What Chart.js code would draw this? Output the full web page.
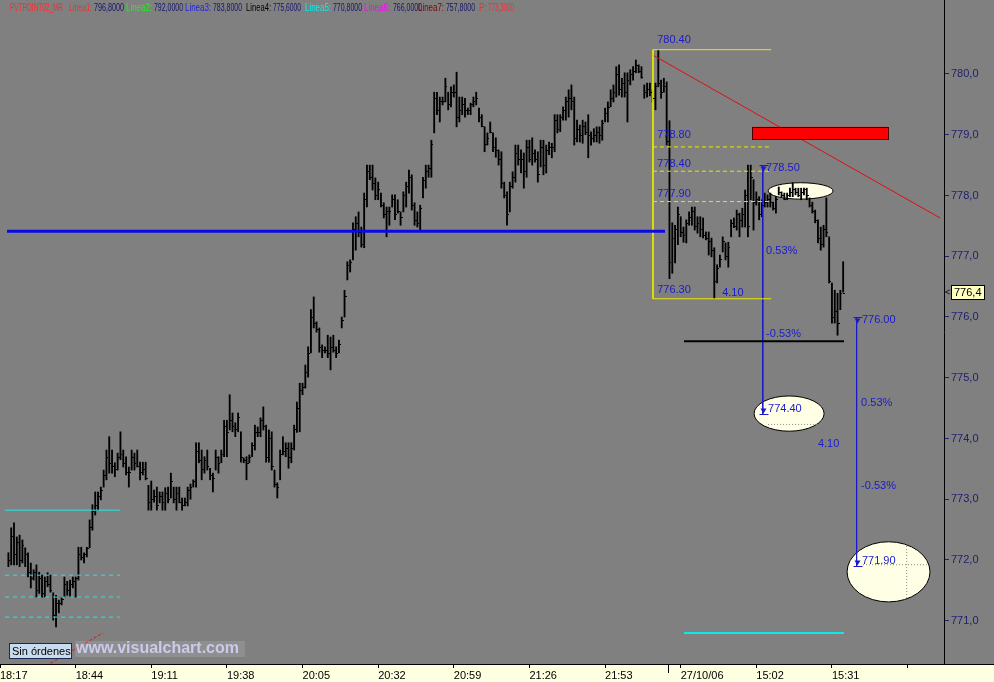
<!DOCTYPE html>
<html><head><meta charset="utf-8">
<script src="https://cdn.jsdelivr.net/npm/chart.js@4"></script>
<style>html,body{margin:0;padding:0;background:#808080;overflow:hidden}#wrap{position:relative;width:994px;height:682px}</style>
</head><body><div id="wrap"><canvas id="c" width="994" height="682"></canvas></div>
<script>
// ---------- time axis ----------
const tickLabels = ['18:17','18:44','19:11','19:38','20:05','20:32','20:59','21:26','21:53','27/10/06','15:02','15:31',''];
const day1Start = 3, day2Start = 239;

// ---------- session 1 (26/10) bars ----------
const d1Hi = [
772.12,772.53,772.61,772.38,772.41,772.33,772.20,772.12,771.95,771.84,
771.92,771.80,771.75,771.72,771.79,771.75,771.46,771.42,771.34,771.39,
771.72,771.65,771.67,771.72,771.72,772.21,772.21,772.12,772.21,772.66,
772.91,773.12,773.12,773.20,773.48,773.81,774.03,773.81,773.60,773.76,
774.11,773.81,773.70,773.53,773.81,773.76,773.81,773.61,773.61,773.61,
773.23,773.30,773.15,
773.20,773.12,773.12,773.19,773.20,773.43,773.20,773.20,773.20,773.02,
773.02,773.20,773.25,773.32,773.93,773.93,773.81,773.70,773.81,773.51,
773.43,773.81,773.70,773.81,774.30,774.30,774.72,774.42,774.26,774.42,
774.11,773.68,773.70,773.73,773.93,774.22,774.19,774.34,774.52,774.22,
774.14,774.11,773.48,773.27,773.81,774.03,773.93,773.93,773.93,774.22,
774.60,774.91,774.91,775.21,775.51,776.12,776.33,775.92,775.82,775.54,
775.51,775.70,
775.67,775.70,775.51,775.62,776.00,776.44,776.91,776.94,777.55,777.65,
777.73,777.48,778.04,778.50,778.50,778.50,778.29,778.22,778.04,777.88,
777.81,777.81,778.01,778.01,777.93,777.73,778.06,778.22,778.42,778.34,
777.88,777.73,777.84,778.30,778.50,778.50,778.91,779.70,779.70,779.62,
779.62,779.93,779.70,779.79,779.82,780.03,779.62,779.62,779.60,779.44,
779.52,779.62,779.70,779.44,779.33,779.13,779.03,779.21,779.03,778.95,
778.75,778.72,778.22,778.06,778.22,778.39,778.83,778.83,778.75,778.70,
778.91,778.91,778.95,778.75,778.72,778.91,778.91,778.83,778.88,778.86,
779.33,779.33,779.33,779.46,779.62,779.74,779.82,779.62,779.24,779.16,
779.24,779.21,779.33,779.05,779.10,779.13,
779.13,779.24,779.44,779.54,779.74,779.82,780.12,780.15,779.93,780.02,
780.02,780.07,780.12,780.23,780.15,780.12,779.82,779.85,779.85,779.74,
779.85,780.40,779.90,779.93,779.87];
const d1Lo = [
771.89,771.92,771.92,771.92,771.89,771.95,771.89,771.72,771.54,771.67,
771.39,771.45,771.39,771.39,771.56,771.47,771.01,770.90,771.13,771.26,
771.39,771.42,771.39,771.54,771.39,771.67,772.00,771.95,772.05,772.20,
772.49,772.74,772.82,772.99,773.20,773.32,773.43,773.43,773.37,773.48,
773.65,773.53,773.40,773.20,773.48,773.48,773.53,773.32,773.40,773.32,
772.82,772.82,772.95,
772.82,772.94,772.82,772.82,772.94,773.02,772.94,772.82,772.94,772.82,
772.89,772.89,773.00,773.20,773.20,773.60,773.32,773.43,773.48,773.32,
773.12,773.48,773.43,773.60,773.70,773.70,774.14,774.11,774.03,774.11,
773.61,773.60,773.32,773.60,773.70,773.81,774.03,774.03,774.14,773.61,
773.61,773.48,773.20,773.02,773.32,773.73,773.70,773.51,773.60,773.81,
774.10,774.11,774.72,774.83,775.01,775.41,775.82,775.75,775.42,775.33,
775.41,775.33,
775.13,775.42,775.33,775.41,775.82,776.00,776.61,776.74,776.94,777.10,
777.32,777.15,777.14,777.81,778.26,778.09,777.93,777.93,777.81,777.63,
777.32,777.51,777.81,777.60,777.71,777.51,777.73,777.81,778.04,777.76,
777.51,777.48,777.43,777.96,778.12,778.30,778.30,779.03,779.33,779.21,
779.49,779.54,779.41,779.46,779.62,779.13,779.21,779.33,779.29,779.33,
779.33,779.46,779.49,779.21,779.13,778.72,778.83,779.03,778.72,778.63,
778.50,778.12,777.96,777.51,777.73,778.12,778.22,778.50,778.37,778.12,
778.30,778.55,778.50,778.55,778.22,778.47,778.34,778.37,778.67,778.62,
778.72,779.03,779.05,779.24,779.24,779.29,779.41,778.83,778.88,778.88,
778.86,779.00,778.62,778.83,778.88,778.88,
778.86,778.91,779.21,779.21,779.46,779.54,779.62,779.65,779.62,779.62,
779.21,779.82,779.90,780.02,780.02,779.93,779.60,779.62,779.64,779.54,
779.41,779.79,779.60,779.70,778.83];
const d1Cl = [
772.00,772.40,772.10,772.30,772.00,772.25,772.10,771.80,771.70,771.80,
771.50,771.70,771.45,771.65,771.60,771.50,771.10,771.30,771.30,771.35,
771.60,771.50,771.60,771.65,771.70,772.10,772.05,772.10,772.20,772.55,
772.80,772.90,773.05,773.15,773.40,773.70,773.60,773.55,773.50,773.70,
773.75,773.60,773.45,773.45,773.70,773.60,773.55,773.45,773.50,773.35,
772.95,773.00,773.05,
772.90,773.05,772.95,773.10,773.00,773.30,773.00,773.10,772.95,772.90,
772.95,773.15,773.20,773.30,773.80,773.65,773.50,773.65,773.55,773.40,
773.35,773.70,773.60,773.75,774.20,774.10,774.30,774.20,774.15,774.35,
773.70,773.65,773.60,773.70,773.90,774.10,774.10,774.30,774.20,773.70,
774.00,773.55,773.25,773.20,773.75,773.80,773.85,773.70,773.85,774.15,
774.50,774.80,774.85,775.10,775.40,776.00,775.90,775.80,775.50,775.45,
775.45,775.40,
775.50,775.45,775.40,775.55,775.95,776.35,776.85,776.90,777.45,777.55,
777.40,777.20,777.95,778.40,778.30,778.20,778.00,778.10,777.85,777.70,
777.75,777.75,777.95,777.70,777.75,777.65,778.00,778.15,778.30,777.85,
777.60,777.55,777.80,778.25,778.40,778.45,778.85,779.60,779.40,779.55,
779.55,779.80,779.50,779.70,779.70,779.30,779.40,779.50,779.40,779.40,
779.50,779.55,779.60,779.30,779.15,778.85,778.95,779.05,778.80,778.75,
778.60,778.20,778.00,777.70,778.15,778.30,778.70,778.60,778.60,778.40,
778.80,778.60,778.70,778.60,778.35,778.80,778.50,778.75,778.80,778.80,
779.25,779.10,779.30,779.40,779.55,779.60,779.55,778.95,779.10,779.00,
779.15,779.05,779.00,778.95,779.00,779.05,
779.00,779.20,779.35,779.45,779.60,779.70,780.00,779.75,779.85,779.70,
779.90,780.00,780.05,780.15,780.05,779.95,779.70,779.75,779.70,779.60,
779.80,779.85,779.70,779.80,778.90];

// ---------- session 2 (27/10) bars ----------
const d2Hi = [
779.23,777.55,777.51,777.81,777.65,777.48,777.60,777.73,777.81,777.81,
777.65,777.65,777.63,777.40,777.40,777.30,777.14,776.86,777.02,777.32,
777.22,777.23,777.60,777.63,777.76,777.71,777.79,778.09,778.50,778.50,
778.26,778.06,777.98,777.93,778.04,778.01,778.04,777.89,777.98,778.14,
778.06,778.04,778.04,778.12,778.21,778.12,778.12,778.12,778.12,778.12,
777.96,777.89,777.76,777.60,777.48,777.51,777.96,777.32,776.56,776.44,
776.39,776.44,776.91];
const d2Lo = [
776.63,776.72,776.89,777.19,777.32,777.23,777.22,777.51,777.51,777.43,
777.38,777.32,777.30,777.27,777.02,776.99,776.30,776.56,776.82,777.07,
776.94,776.82,777.32,777.47,777.43,777.32,777.48,777.48,777.32,777.93,
777.43,777.84,777.60,777.65,777.81,777.81,777.81,777.76,777.71,778.01,
777.98,777.93,777.93,777.98,777.98,778.01,777.98,777.93,778.01,777.93,
777.81,777.71,777.55,777.22,777.10,777.15,777.32,776.56,775.90,775.90,
775.70,776.12,776.41];
const d2Cl = [
776.90,777.30,777.45,777.70,777.40,777.35,777.55,777.65,777.75,777.50,
777.55,777.45,777.35,777.30,777.25,777.10,776.60,776.80,776.95,777.25,
777.00,777.15,777.55,777.50,777.70,777.60,777.70,778.00,777.50,778.30,
777.90,777.95,777.70,777.85,777.90,777.95,777.90,777.80,777.95,778.05,
778.00,777.95,778.00,778.05,778.10,778.05,778.00,778.05,778.10,778.00,
777.85,777.75,777.60,777.30,777.20,777.45,777.40,776.60,776.00,776.10,
775.90,776.40,776.40];

// ---------- drawn studies (levels in price, positions in bar index) ----------
const blueLevel = 777.41, linea4 = 775.60, linea5 = 770.80;
const boxTop = 780.40, boxBottom = 776.30, boxFrom = 233.1, boxTo = 275.3;
const fibLevels = [778.80, 778.40, 777.90];
const leftCyanSolid = 772.82, leftCyanDashed = [771.75, 771.39, 771.06];
const trendA = [233.1, 780.31], trendB = [335.6, 777.63];
const redDashA = [16.5, 770.26], redDashB = [36.8, 770.80];
const measureA = {x: 272.3, top: 778.50, bottom: 774.40};
const measureB = {x: 305.8, top: 776.00, bottom: 771.90};
const lastPrice = 776.4;

const header = [
 ['PVTPOINT02_MR','#ff2a2a',10,53],['Linea1:','#ff2a2a',69,23],['796,8000','#14146e',94,30],
 ['Linea2:','#22ee22',126,26],['792,0000','#14146e',154,29],['Linea3:','#2222e6',185,26],
 ['783,8000','#14146e',213,29],['Linea4:','#000000',246,25],['775,6000','#14146e',273,28],
 ['Linea5:','#00f0f0',305,26],['770,8000','#14146e',333,29],['Linea6:','#ff00ff',364,26],
 ['766,0000','#14146e',393,29],['Linea7:','#800000',418,26],['757,8000','#14146e',446,29],
 ['P:','#ff2a2a',479,8],['773,3000','#ff2a2a',488,26]];

const annoLabels = [
 ['780.40',234.6,780.56],['778.80',234.6,779.00],['778.40',234.6,778.52],['777.90',234.6,778.03],
 ['776.30',234.6,776.44],['4.10',257.8,776.40],
 ['778.50',273.5,778.45],['0.53%',273.5,777.09],['-0.53%',273.5,775.72],['774.40',274.2,774.49],['4.10',292.0,773.91],
 ['776.00',307.7,775.95],['0.53%',307.4,774.58],['-0.53%',307.4,773.22],['771.90',307.7,771.98]];

// ---------- build datasets ----------
const bars = [];
d1Hi.forEach((h, k) => bars.push({x: day1Start + k, y: [d1Lo[k], h], c: d1Cl[k]}));
d2Hi.forEach((h, k) => bars.push({x: day2Start + k, y: [d2Lo[k], h], c: d2Cl[k]}));

function seg(pts, color, width, dash) {
  return {type: 'line', data: pts.map(p => ({x: p[0], y: p[1]})), borderColor: color, borderWidth: width,
    borderDash: dash || [], pointRadius: 0, fill: false, tension: 0, order: 1};
}
const YEL = '#e8e800', BLUE = '#1a1acc', CYAN = '#22e6e6';
const datasets = [
  {type: 'bar', data: bars, backgroundColor: '#000', borderWidth: 0, barThickness: 1.2, order: 10},
  seg([[2.5, blueLevel],[237.4, blueLevel]], '#0a0ae6', 3),
  seg([[244.2, linea4],[301.3, linea4]], '#000', 2),
  seg([[244.2, linea5],[301.3, linea5]], '#10e8e8', 2),
  seg([[1.8, leftCyanSolid],[42.8, leftCyanSolid]], CYAN, 1),
  ...leftCyanDashed.map(v => seg([[1.8, v],[42.8, v]], CYAN, 1, [4,4])),
  seg([[boxFrom, boxTop],[boxTo, boxTop]], YEL, 1),
  seg([[boxFrom, boxBottom],[boxTo, boxBottom]], YEL, 1),
  seg([[boxFrom, boxTop],[boxFrom, boxBottom]], YEL, 1),
  ...fibLevels.map(v => seg([[boxFrom, v],[boxTo, v]], YEL, 1, [4,3])),
  seg([trendA, trendB], '#dd1010', 1),
  seg([redDashA, redDashB], '#dd1010', 1, [3,2]),
  seg([[measureA.x, measureA.top],[measureA.x, measureA.bottom]], BLUE, 1),
  seg([[measureB.x, measureB.top],[measureB.x, measureB.bottom]], BLUE, 1)
];

function ellipse(ctx, X, Y, x1, x2, p1, p2) {
  const a = X(x1), b = X(x2), c = Y(p1), d = Y(p2);
  ctx.beginPath();
  ctx.ellipse((a+b)/2, (c+d)/2, Math.abs(b-a)/2, Math.abs(d-c)/2, 0, 0, Math.PI*2);
  ctx.fillStyle = '#ffffe6'; ctx.fill();
  ctx.strokeStyle = '#000'; ctx.lineWidth = 1; ctx.stroke();
}
function dotted(ctx, x1, y1, x2, y2) {
  ctx.save(); ctx.strokeStyle = '#8a8a8a'; ctx.setLineDash([1,2]); ctx.lineWidth = 1;
  ctx.beginPath(); ctx.moveTo(x1, y1); ctx.lineTo(x2, y2); ctx.stroke(); ctx.restore();
}
function marker(ctx, x, y, top) {
  x = Math.round(x) + 0.5; y = Math.round(y) + 0.5;
  ctx.strokeStyle = BLUE; ctx.fillStyle = BLUE; ctx.lineWidth = 1;
  ctx.beginPath(); ctx.moveTo(x-4, y); ctx.lineTo(x+5, y); ctx.stroke();
  ctx.beginPath();
  if (top) { ctx.moveTo(x-3, y+1); ctx.lineTo(x+3, y+1); ctx.lineTo(x, y+6); }
  else { ctx.moveTo(x-3, y-6); ctx.lineTo(x+3, y-6); ctx.lineTo(x, y-1); }
  ctx.closePath(); ctx.fill();
}

const deco = {
  id: 'deco',
  beforeDraw(chart) {
    const {ctx, width, height, chartArea} = chart;
    ctx.save();
    ctx.fillStyle = '#808080'; ctx.fillRect(0, 0, width, height);
    ctx.fillStyle = '#ffffe1'; ctx.fillRect(0, chartArea.bottom, width, height - chartArea.bottom);
    ctx.restore();
  },
  beforeDatasetsDraw(chart) {
    const {ctx} = chart;
    const X = v => chart.scales.x.getPixelForValue(v), Y = v => chart.scales.y.getPixelForValue(v);
    ctx.save();
    ellipse(ctx, X, Y, 274.2, 297.4, 778.21, 777.94);
    ellipse(ctx, X, Y, 269.2, 294.2, 774.70, 774.12);
    dotted(ctx, X(274.2), Y(774.24)+0.5, X(291.7), Y(774.24)+0.5);
    ellipse(ctx, X, Y, 302.4, 332.0, 772.30, 771.31);
    dotted(ctx, X(308.1), Y(771.93)+0.5, X(331.3), Y(771.93)+0.5);
    dotted(ctx, X(323.5)+0.5, Y(772.28), X(323.5)+0.5, Y(771.38));
    ctx.restore();
  },
  afterDatasetsDraw(chart) {
    const {ctx, chartArea, width} = chart;
    const X = v => chart.scales.x.getPixelForValue(v), Y = v => chart.scales.y.getPixelForValue(v);
    ctx.save();
    // close ticks
    ctx.fillStyle = '#000';
    bars.forEach(b => ctx.fillRect(Math.round(X(b.x)), Math.round(Y(b.c)), 2, 1));
    // red zone
    const rx = X(268.5), ry = Y(779.13), rw = X(317.0) - rx, rh = Y(778.93) - ry;
    ctx.fillStyle = '#ff0000'; ctx.fillRect(rx, ry, rw, rh);
    ctx.strokeStyle = '#4a0000'; ctx.lineWidth = 1; ctx.strokeRect(Math.round(rx)+0.5, Math.round(ry)+0.5, Math.round(rw), Math.round(rh));
    // measurement markers
    marker(ctx, X(measureA.x), Y(measureA.top), true);
    marker(ctx, X(measureA.x), Y(measureA.bottom), false);
    marker(ctx, X(measureB.x), Y(measureB.top), true);
    marker(ctx, X(measureB.x), Y(measureB.bottom), false);
    // study labels
    ctx.font = '11px "Liberation Sans", Arial, sans-serif';
    ctx.textBaseline = 'middle'; ctx.textAlign = 'left'; ctx.fillStyle = BLUE;
    annoLabels.forEach(l => ctx.fillText(l[0], X(l[1]), Y(l[2])));
    // header
    ctx.font = '11px "Liberation Sans Narrow", "Liberation Sans", Arial, sans-serif';
    header.forEach(h => { ctx.fillStyle = h[1]; ctx.fillText(h[0], h[2], 8, h[3]); });
    // Sin órdenes box + watermark
    ctx.fillStyle = '#c8dcf0'; ctx.fillRect(9, 643, 63, 15);
    ctx.strokeStyle = '#1a2a50'; ctx.strokeRect(9.5, 643.5, 62, 15);
    ctx.fillStyle = '#000'; ctx.font = '11px "Liberation Sans", Arial, sans-serif';
    ctx.fillText('Sin órdenes', 12, 651.5);
    ctx.fillStyle = 'rgba(255,255,255,0.12)'; ctx.fillRect(75, 641, 170, 16);
    ctx.fillStyle = '#cacaec'; ctx.font = 'bold 16px "Liberation Sans", Arial, sans-serif';
    ctx.fillText('www.visualchart.com', 76, 648.5, 168);
    // full-width bottom border and day separator tick
    ctx.fillStyle = '#000';
    ctx.fillRect(0, chartArea.bottom, width, 1);
    ctx.fillRect(Math.round(X(238.5)), chartArea.bottom, 1, 9);
    // last price tag
    const py = Math.round(Y(lastPrice));
    ctx.fillStyle = '#ffffc0'; ctx.fillRect(951, py - 8, 34, 15);
    ctx.strokeStyle = '#000'; ctx.strokeRect(951.5, py - 7.5, 33, 14);
    ctx.fillStyle = '#000'; ctx.font = '11px "Liberation Sans", Arial, sans-serif';
    ctx.fillText(String(lastPrice).replace('.', ','), 954, py);
    ctx.font = '9px "Liberation Sans", Arial, sans-serif';
    ctx.fillText('<', 945, py);
    ctx.restore();
  }
};

Chart.defaults.font.family = '"Liberation Sans", Arial, sans-serif';
Chart.defaults.font.size = 11;
new Chart(document.getElementById('c'), {
  type: 'bar',
  data: {datasets},
  plugins: [deco],
  options: {
    responsive: false, animation: false, devicePixelRatio: 1,
    layout: {padding: 0},
    plugins: {legend: {display: false}, tooltip: {enabled: false}},
    scales: {
      x: {
        type: 'linear', min: 0, max: 337, offset: false, position: 'bottom',
        afterFit: s => { s.height = 18; s.paddingLeft = 0; s.paddingRight = 0; },
        border: {color: '#000', width: 1},
        grid: {drawOnChartArea: false, offset: false, color: '#000', tickLength: 4},
        ticks: {stepSize: 27, includeBounds: false, autoSkip: false, maxRotation: 0, minRotation: 0,
          align: 'start', padding: 1, color: '#000', font: {size: 11},
          callback: v => tickLabels[Math.round(v / 27)] ?? ''}
      },
      y: {
        type: 'linear', position: 'right', min: 770.288, max: 781.218,
        afterFit: s => { s.width = 50; s.paddingTop = 0; s.paddingBottom = 0; },
        border: {color: '#000', width: 1},
        grid: {drawOnChartArea: false, tickLength: 5, color: c => (c.tick && c.tick.value > 780.5) ? 'rgba(0,0,0,0)' : '#20206e'},
        ticks: {stepSize: 1, includeBounds: false, padding: 2, color: '#20206e', font: {size: 11},
          callback: v => v > 780.5 ? '' : v.toFixed(1).replace('.', ',')}
      }
    }
  }
});
</script></body></html>
